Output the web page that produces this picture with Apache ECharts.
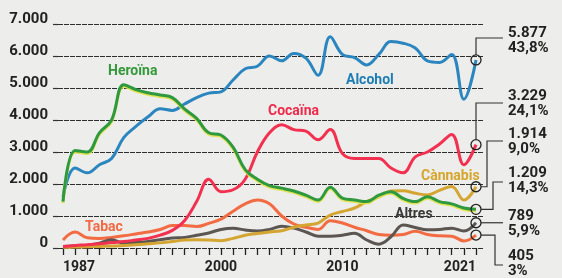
<!DOCTYPE html>
<html>
<head>
<meta charset="utf-8">
<script src="https://cdn.jsdelivr.net/npm/echarts@6/dist/echarts.min.js"></script>
<style>
  html, body { margin: 0; padding: 0; background: #ededeb; }
  #chart { width: 562px; height: 278px; }
</style>
</head>
<body>
<div id="chart"></div>
<script>
// anys
const years = ['1987','1988','1989','1990','1991','1992','1993','1994','1995','1996','1997','1998',
  '1999','2000','2001','2002','2003','2004','2005','2006','2007','2008','2009','2010','2011','2012',
  '2013','2014','2015','2016','2017','2018','2019','2020','2021']
const yearLabels = ['1987', '2000', '2010', '2021']

// admissions a tractament per substància
const alcohol = [1600,2500,2350,2600,2800,3450,3800,4100,4350,4300,4500,4700,4840,4880,5250,5600,5680,
  6000,5850,6080,5930,5400,6600,6050,5950,5720,6050,6450,6400,6250,5850,5800,6050,4650,5877]
const heroina = [1450,3050,3000,3600,4000,5100,4950,4850,4780,4700,4350,4050,3600,3530,3150,2450,2150,
  1950,1870,1780,1650,1500,1900,1560,1500,1450,1650,1760,1550,1450,1600,1450,1380,1250,1209]
const cocaina = [50,80,100,130,170,200,250,300,400,550,850,1450,2150,1760,1820,2150,3000,3600,3850,
  3700,3650,3380,3700,2950,2800,2800,2800,2500,2350,2850,3000,3250,3550,2600,3229]
const cannabis = [20,30,40,50,60,80,100,130,160,200,250,260,250,230,300,400,450,500,540,650,720,780,
  1030,1140,1250,1450,1600,1780,1790,1710,1660,1800,1920,1500,1914]
const altres = [50,60,80,150,260,150,170,200,260,310,330,400,470,580,620,560,530,580,680,620,500,370,
  370,400,460,250,120,350,720,640,570,580,620,530,789]
const tabac = [250,500,320,300,330,380,440,500,580,700,700,670,770,900,1150,1380,1500,1380,1000,750,
  650,580,850,780,650,540,420,400,420,520,420,380,370,220,405]

// xifres finals (2021)
const endValues = ['5.877', '3.229', '1.914', '1.209', '789', '405']
const endShares = ['43,8%', '24,1%', '9,0%', '14,3%', '5,9%', '3%']

const chart = echarts.init(document.getElementById('chart'))

const lastCircle = (arr) => arr.map((v, i) => i === arr.length - 1
  ? { value: v, symbol: 'circle', symbolSize: 10 }
  : v)

const makeSeries = (name, data, color, extra) => Object.assign({
  name,
  type: 'line',
  xAxisIndex: 0,
  yAxisIndex: 0,
  data: lastCircle(data),
  smooth: 0.4,
  symbol: 'none',
  showSymbol: true,
  showAllSymbol: true,
  lineStyle: { color, width: 3 },
  itemStyle: { color: 'rgba(0,0,0,0)', borderColor: '#222', borderWidth: 1.3 },
  silent: true,
  z: 3
}, extra || {})

const font = 'bold 15px Roboto, sans-serif'

const option = {
  backgroundColor: '#ededeb',
  animation: false,
  grid: [
    // línies de dades
    { left: 63, right: 86, top: 24, bottom: 30 },
    // graella de fons
    { left: 58, right: 79, top: 24, bottom: 30 }
  ],
  xAxis: [
    {
      gridIndex: 0,
      type: 'category',
      data: years,
      boundaryGap: false,
      axisLine: { show: false },
      axisTick: { show: true, interval: 0, length: 7, lineStyle: { color: '#222', width: 1.3 } },
      axisLabel: {
        interval: (i, v) => yearLabels.includes(v),
        alignMinLabel: 'left',
        alignMaxLabel: 'right',
        margin: 12,
        color: '#222',
        fontFamily: 'Roboto',
        fontWeight: 'bold',
        fontSize: 14
      },
      splitLine: { show: false }
    },
    { gridIndex: 1, type: 'value', min: 0, max: 1, show: false }
  ],
  yAxis: [
    { gridIndex: 0, type: 'value', min: 0, max: 7000, interval: 1000, show: false },
    {
      gridIndex: 1,
      type: 'value',
      min: 0,
      max: 7000,
      interval: 1000,
      axisLine: { show: false },
      axisTick: { show: true, length: 5, lineStyle: { color: '#333', width: 1.2 } },
      axisLabel: {
        margin: 10,
        color: '#222',
        fontFamily: 'Roboto',
        fontWeight: 'bold',
        fontSize: 15,
        verticalAlign: 'bottom',
        lineHeight: 10,
        formatter: (v) => v === 0 ? '0' : (v / 1000) + '.000'
      },
      splitLine: { lineStyle: { color: '#2e2e2e', width: 1, type: [5, 1] } }
    }
  ],
  series: [
    makeSeries('Tabac', tabac, '#f26b43'),
    makeSeries('Altres', altres, '#5b5651'),
    makeSeries('Cànnabis', cannabis, '#d4a531'),
    makeSeries('Cocaïna', cocaina, '#f2304f'),
    makeSeries('Alcohol', alcohol, '#2b86c0'),
    makeSeries('Heroïna', heroina, '#2f9940', {
      lineStyle: { color: '#2f9940', width: 3, shadowColor: 'rgba(225,225,70,0.9)', shadowOffsetY: 1.5 }
    })
  ]
}

chart.setOption(option)

// connectors i etiquetes finals
const last = years.length - 1
const px = (arr) => chart.convertToPixel({ gridIndex: 0 }, [last, arr[arr.length - 1]])
const labelX = 503
const lines = []

const a = px(alcohol)
lines.push([[a[0], a[1] - 5], [a[0], 38], [labelX, 38]])
const c = px(cocaina)
lines.push([[c[0], c[1] - 5], [c[0], 103], [labelX, 103]])
const k = px(cannabis)
lines.push([[k[0] + 5, k[1]], [487, k[1]], [487, 141], [labelX, 141]])
const h = px(heroina)
lines.push([[h[0] + 5, h[1]], [493, h[1]], [493, 182], [labelX, 182]])
const r = px(altres)
lines.push([[r[0] + 5, r[1]], [labelX, r[1]]])
const t = px(tabac)
lines.push([[t[0] + 5, t[1]], [495, t[1]], [495, 265], [labelX, 265]])

const labelTops = [26, 89, 127, 166, 209, 249]

const graphic = []
lines.forEach((pts) => {
  graphic.push({ type: 'polyline', shape: { points: pts }, style: { stroke: '#333', lineWidth: 1.2, fill: null }, z: 10 })
})
endValues.forEach((v, i) => {
  graphic.push({
    type: 'text', x: 508, y: labelTops[i], z: 10,
    style: { text: v + '\n' + endShares[i], font, fill: '#222', lineHeight: 15 }
  })
})

// noms de les sèries
const seriesLabels = [
  { text: 'Heroïna', x: 108, y: 71, fill: '#34993a' },
  { text: 'Alcohol', x: 346, y: 80, fill: '#1e7db5' },
  { text: 'Cocaïna', x: 268, y: 111, fill: '#ee2a4a' },
  { text: 'Cànnabis', x: 421, y: 176, fill: '#d6a62c' },
  { text: 'Altres', x: 395, y: 214, fill: '#3a3a3a' },
  { text: 'Tabac', x: 85, y: 227, fill: '#f26a45' }
]
seriesLabels.forEach((s) => {
  graphic.push({
    type: 'text', x: s.x, y: s.y, z: 10,
    style: { text: s.text, font: 'bold 14px Roboto, sans-serif', fill: s.fill, verticalAlign: 'middle' }
  })
})

chart.setOption({ graphic })
</script>
</body>
</html>
